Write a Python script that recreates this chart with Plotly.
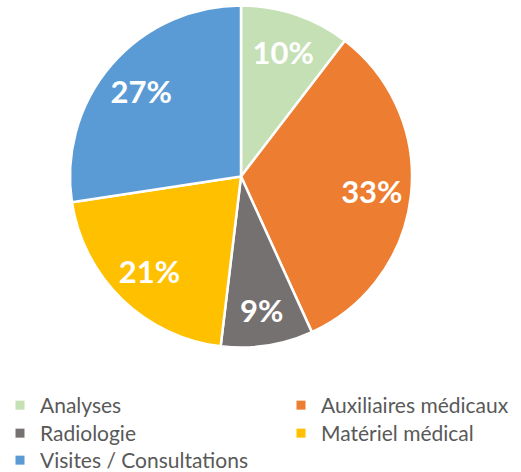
import plotly.graph_objects as go

labels = ["Analyses", "Auxiliaires médicaux", "Radiologie", "Matériel médical", "Visites / Consultations"]
values = [10.4, 32.8, 8.7, 20.7, 27.4]
colors = ["#C5E0B4", "#ED7D31", "#767171", "#FFC000", "#5B9BD5"]

W, H = 521, 472
dom = dict(x=[70 / W, 412 / W], y=[1 - 348 / H, 1 - 5 / H])
fig = go.Figure()
# filled pie
fig.add_trace(go.Pie(
    labels=labels, values=values, sort=False, direction="clockwise", rotation=0,
    marker=dict(colors=colors, line=dict(color="white", width=2.5)),
    textinfo="none", domain=dom, hoverinfo="label+percent", showlegend=False,
))
# transparent ring carrying the percentage labels further out
fig.add_trace(go.Pie(
    labels=labels, values=values, sort=False, direction="clockwise", rotation=0, hole=0.54,
    marker=dict(colors=["rgba(0,0,0,0)"] * len(values), line=dict(width=0)),
    texttemplate="<b>%{percent:.0%}</b>", textposition="inside",
    insidetextorientation="horizontal",
    insidetextfont=dict(color="white", size=31, family="Lato"),
    domain=dom, hoverinfo="skip", showlegend=False,
))

# legend entries: one legend per entry, laid out in two columns
cols = [0, 1, 0, 1, 0]
rows = [0, 0, 1, 1, 2]
col_x = [0, 281]
row_y = [385, 413, 440]
layout_legends = {}
for i, (lab, col) in enumerate(zip(labels, colors)):
    key = "legend" if i == 0 else f"legend{i + 1}"
    fig.add_trace(go.Scatter(
        x=[None], y=[None], mode="markers", name=lab,
        marker=dict(symbol="square", size=9, color=col),
        legend=key, showlegend=True,
    ))
    layout_legends[key] = dict(
        x=col_x[cols[i]] / W, y=1 - row_y[rows[i]] / H, xref="container", yref="container",
        xanchor="left", yanchor="top", orientation="v",
        font=dict(size=21, color="#595959", family="Lato"),
        bgcolor="rgba(0,0,0,0)", itemwidth=30,
    )

fig.update_layout(
    width=W, height=H, margin=dict(l=0, r=0, t=0, b=0, autoexpand=False),
    paper_bgcolor="white", plot_bgcolor="white",
    font=dict(family="Lato", color="#595959"),
    xaxis=dict(visible=False), yaxis=dict(visible=False),
    uniformtext=dict(minsize=29, mode="show"),
    **layout_legends,
)
fig.write_html("out.html", config={"displayModeBar": False},
               post_script="document.body.style.margin='0';document.body.style.padding='0';")
